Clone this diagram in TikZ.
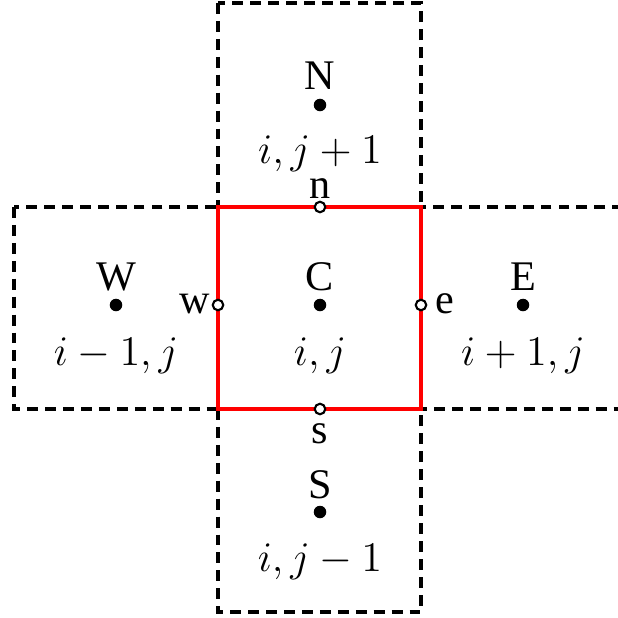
\documentclass[tikz,border=0pt]{standalone}
\usepackage{fontspec}
\setmainfont{Liberation Serif}
\usetikzlibrary{positioning}

\tikzset{
  cellbox/.style={draw, line width=1pt, dash pattern=on 3.1pt off 2pt},
  ctrlvol/.style={draw=red, line width=1.3pt},
  node pt/.style={circle, fill=black, inner sep=0pt, minimum size=0.125cm},
  face pt/.style={circle, draw=black, fill=white, line width=0.6pt, inner sep=0pt, minimum size=0.105cm},
  lbl/.style={font=\fontsize{12pt}{14pt}\selectfont, inner sep=0pt, anchor=base}
}

\begin{document}
\begin{tikzpicture}[x=0.01cm, y=-0.01cm]
    \useasboundingbox (0,0) rectangle (617,618);
    % neighbouring cells
    \draw[cellbox] (218,3) rectangle (421,207);
    \draw[cellbox] (14,207) rectangle (218,409);
    \draw[cellbox] (421,207) rectangle (625,409);
    \draw[cellbox] (218,409) rectangle (421,612);
    % control volume
    \draw[ctrlvol] (218,207) rectangle (421,409);

    % nodes
    \node[node pt] (N) at (320,105) {};
    \node[node pt] (W) at (116,305) {};
    \node[node pt] (C) at (320,305) {};
    \node[node pt] (E) at (523,305) {};
    \node[node pt] (S) at (320,512) {};

    % faces
    \node[face pt] (fn) at (320,207) {};
    \node[face pt] (fw) at (218,305) {};
    \node[face pt] (fe) at (421,305) {};
    \node[face pt] (fs) at (320,409) {};

    % labels
    \node[lbl] (NL) at (320,90) {N};
    \node[lbl] (NI) at (320,163) {$i,j+1$};
    \node[lbl] (WL) at (116,290) {W};
    \node[lbl] (WI) at (116,365) {$i-1,j$};
    \node[lbl] (CL) at (320,290) {C};
    \node[lbl] (CI) at (320,365) {$i,j$};
    \node[lbl] (EL) at (523,290) {E};
    \node[lbl] (EI) at (523,365) {$i+1,j$};
    \node[lbl] (SL) at (320,498) {S};
    \node[lbl] (SI) at (320,571) {$i,j-1$};

    \node[lbl] (nL) at (320,198) {n};
    \node[lbl, anchor=base east] (wL) at (211,313) {w};
    \node[lbl, anchor=base west] (eL) at (435,313) {e};
    \node[lbl] (sL) at (320,443) {s};
\end{tikzpicture}
\end{document}
